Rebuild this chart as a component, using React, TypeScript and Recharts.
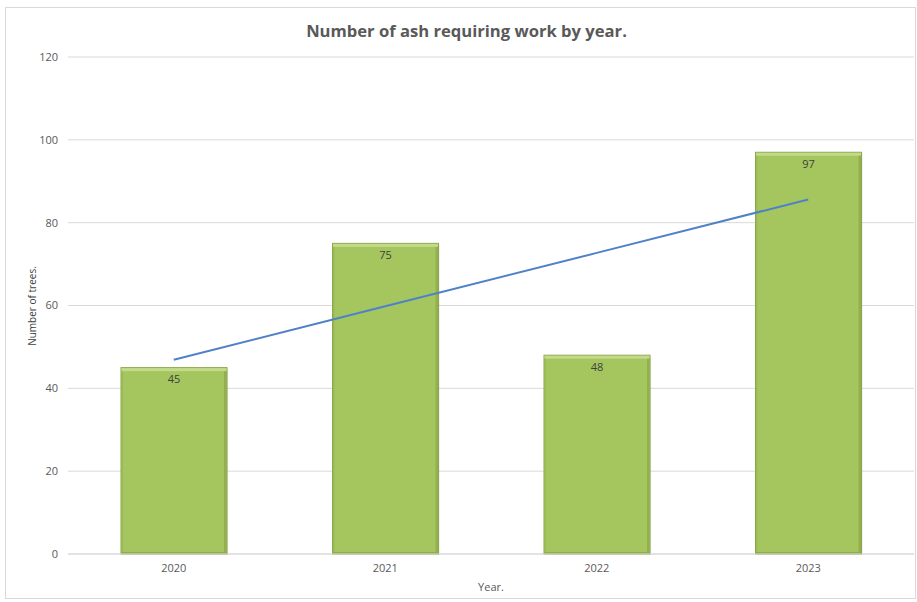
import { ComposedChart, Bar, Line, XAxis, YAxis, CartesianGrid, LabelList } from 'recharts'

const years = ['2020', '2021', '2022', '2023']
const treeCounts = [45, 75, 48, 97]
// linear trendline
const trendValues = [46.9, 59.8, 72.7, 85.6]
const yTicks = [0, 20, 40, 60, 80, 100, 120]

const rows = years.map((year, i) => ({ year, trees: treeCounts[i], trend: trendValues[i] }))

const FONT = '"Open Sans", "Liberation Sans", sans-serif'
const TEXT = '#595959'

// bevelled bar, roughly like the Excel preset
function BevelBar(props: any) {
  const { x, y, width, height } = props
  if (!height || height <= 0) return null
  return (
    <g>
      <rect x={x + 1} y={y + 1} width={width} height={height} fill="rgba(0,0,0,0.1)" />
      <rect x={x} y={y} width={width} height={height} fill="#A5C65F" stroke="#8AA84A" strokeWidth={1} />
      <rect x={x + 0.5} y={y + 0.5} width={width - 1} height={3} fill="#C3DA8A" />
      <rect x={x + width - 3} y={y + 3.5} width={2.5} height={height - 4} fill="#93B04F" />
      <rect x={x + 0.5} y={y + 3.5} width={1.5} height={height - 4} fill="#9CB958" />
      <rect x={x + 0.5} y={y + height - 2} width={width - 1} height={1.5} fill="#8FAC4C" />
    </g>
  )
}

export default function App() {
  return (
    <div
      style={{
        position: 'absolute', left: 5, top: 7, width: 909, height: 590,
        border: '1px solid #d9d9d9', background: '#fff', fontFamily: FONT,
      }}
    >
      <div
        style={{
          position: 'absolute', top: 11, left: 6, width: '100%', textAlign: 'center',
          fontSize: 16.6, fontWeight: 'bold', color: TEXT,
        }}
      >
        Number of ash requiring work by year.
      </div>
      <div
        style={{
          position: 'absolute', left: 26 - 60, top: 298 - 7, width: 120, textAlign: 'center',
          fontSize: 10, color: '#404040', transform: 'rotate(-90deg)', lineHeight: '14px',
        }}
      >
        Number of trees.
      </div>
      <ComposedChart
        width={909}
        height={590}
        data={rows}
        margin={{ top: 49, right: 1, left: 0, bottom: 0 }}
      >
        <CartesianGrid vertical={false} stroke="#d9d9d9" />
        <XAxis
          dataKey="year"
          height={44}
          tick={{ fontSize: 11, fill: TEXT, fontFamily: FONT }}
          tickSize={0}
          tickMargin={10}
          axisLine={{ stroke: '#d9d9d9' }}
          tickLine={false}
          label={{ value: 'Year.', position: 'insideBottom', offset: 7, fontSize: 11, fill: TEXT, fontFamily: FONT }}
        />
        <YAxis
          width={62}
          domain={[0, 120]}
          ticks={yTicks}
          tick={{ fontSize: 11, fill: TEXT, fontFamily: FONT }}
          tickSize={0}
          tickMargin={10}
          axisLine={false}
          tickLine={false}
        />
        <Bar dataKey="trees" barSize={106} shape={<BevelBar />} isAnimationActive={false}>
          <LabelList dataKey="trees" position="insideTop" offset={8} fontSize={11} fill="#404040" fontFamily={FONT} />
        </Bar>
        <Line
          type="linear"
          dataKey="trend"
          stroke="#4F81C9"
          strokeWidth={2}
          dot={false}
          isAnimationActive={false}
        />
      </ComposedChart>
    </div>
  )
}
